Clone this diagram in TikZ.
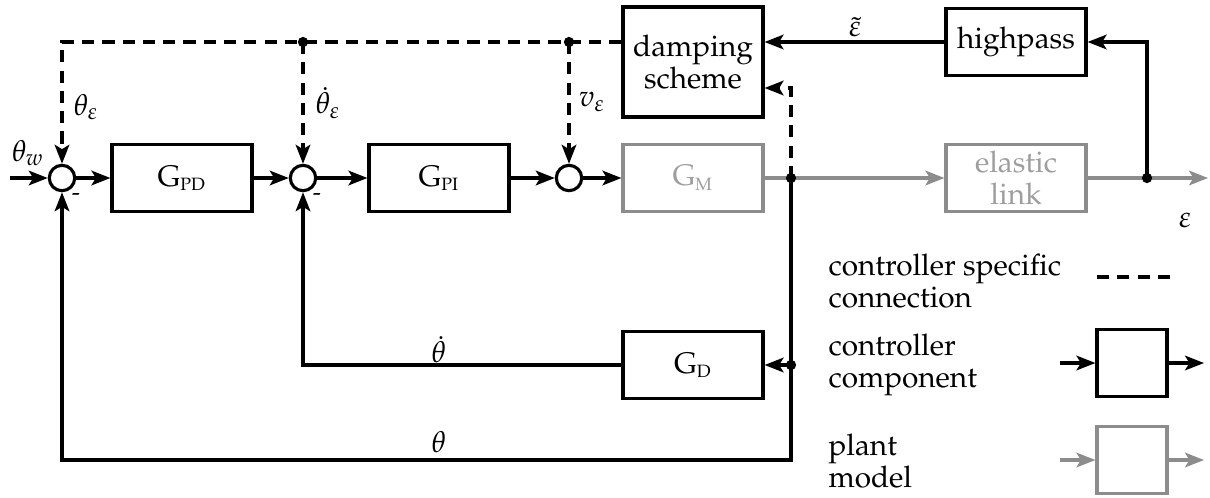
\documentclass[tikz,border=0pt]{standalone}
\usepackage[T1]{fontenc}
\usepackage{mathpazo}
\usetikzlibrary{arrows.meta}
\definecolor{plantgray}{gray}{0.55}

\begin{document}
\begin{tikzpicture}[x=0.013cm, y=-0.013cm, line width=1.15pt,
    every node/.style={font=\fontsize{11}{13}\selectfont},
    sig/.style={-{Stealth[length=7pt,width=5.4pt,inset=1.6pt]}},
    dashln/.style={dash pattern=on 4.5pt off 3pt},
    blk/.style={draw, minimum width=1.82cm, minimum height=0.86cm, inner sep=1pt, align=center},
    plant/.style={blk, draw=plantgray, text=plantgray!85},
    sumpt/.style={circle, draw, minimum size=0.33cm, inner sep=0pt}]
  \useasboundingbox (0,0) rectangle (1210,497);

  \node[sumpt] (s1) at (62,178) {};
  \node[sumpt] (s2) at (303,178) {};
  \node[sumpt] (s3) at (569,178) {};
  \node[blk] (gpd) at (182,178) {G$_{\scriptscriptstyle\mathrm{PD}}$};
  \node[blk] (gpi) at (439,178) {G$_{\scriptscriptstyle\mathrm{PI}}$};
  \node[plant] (gm) at (693,178) {G$_{\scriptscriptstyle\mathrm{M}}$};
  \node[plant] (elastic) at (1016,178) {elastic\\[-1pt]link};
  \node[blk, minimum height=1.43cm] (damping) at (693,62) {damping\\[-1pt]scheme};
  \node[blk] (highpass) at (1016,42) {highpass};
  \node[blk] (gd) at (693,365) {G$_{\scriptscriptstyle\mathrm{D}}$};

  \coordinate (in)  at (10,178);
  \coordinate (out) at (1208,178);
  \coordinate (jm)  at (791,178);
  \coordinate (je)  at (1147,178);
  \coordinate (jd)  at (791,365);
  \coordinate (t1)  at (303,42);
  \coordinate (t2)  at (569,42);
  \coordinate (bot) at (62,460);

  \draw[sig] (in) -- (s1);
  \draw[sig] (s1) -- (gpd);
  \draw[sig] (gpd) -- (s2);
  \draw[sig] (s2) -- (gpi);
  \draw[sig] (gpi) -- (s3);
  \draw[sig] (s3) -- (gm);
  \draw[plantgray] (gm) -- (jm);
  \draw[plantgray, sig] (jm) -- (elastic);
  \draw[plantgray] (elastic) -- (je);
  \draw[plantgray, sig] (je) -- (out);

  \draw[sig] (je) |- (highpass.east);
  \draw[sig] (highpass.west) -- (highpass.west -| damping.east);
  \draw[dashln, sig] (jm) |- ([yshift=-0.338cm]damping.east);
  \draw[dashln, sig] (damping.west |- t1) -| (s1.north);
  \draw[dashln, sig] (t1) -- (s2.north);
  \draw[dashln, sig] (t2) -- (s3.north);

  \draw[sig] (jm) |- (bot) -- (s1.south);
  \draw[sig] (jd) -- (gd.east);
  \draw[sig] (gd.west) -| (s2.south);

  \foreach \p in {jm,je,jd,t1,t2} \fill (\p) circle (1.9pt);

  \node (lw)  at (28,153)  {$\theta_w$};
  \node (le1) at (86,107)  {$\theta_\varepsilon$};
  \node (le2) at (328,103) {$\dot\theta_\varepsilon$};
  \node (le3) at (592,102) {$v_\varepsilon$};
  \node (lt)  at (855,27)  {$\tilde\varepsilon$};
  \node (lo)  at (1185,220) {$\varepsilon$};
  \node (ldt) at (439,350) {$\dot\theta$};
  \node (lth) at (439,442) {$\theta$};
  \node[font=\small] (m1) at (76,197) {-};
  \node[font=\small] (m2) at (317,197) {-};

  % legend
  \node[anchor=west, align=left] (k1) at (818,281) {controller specific\\[-1pt]connection};
  \node[anchor=west, align=left] (k2) at (818,365) {controller\\[-1pt]component};
  \node[anchor=west, align=left] (k3) at (818,461) {plant\\[-1pt]model};
  \coordinate (da) at (1097,277);
  \coordinate (db) at (1173,277);
  \draw[dashln] (da) -- (db);
  \node[blk, minimum width=0.91cm] (kc) at (1132,363) {};
  \coordinate (kci) at (1060,363);
  \coordinate (kco) at (1204,363);
  \draw[sig] (kci) -- (kc);
  \draw[sig] (kc) -- (kco);
  \node[plant, minimum width=0.91cm] (kp) at (1132,460) {};
  \coordinate (kpi) at (1060,460);
  \coordinate (kpo) at (1204,460);
  \draw[plantgray, sig] (kpi) -- (kp);
  \draw[plantgray, sig] (kp) -- (kpo);
\end{tikzpicture}
\end{document}
